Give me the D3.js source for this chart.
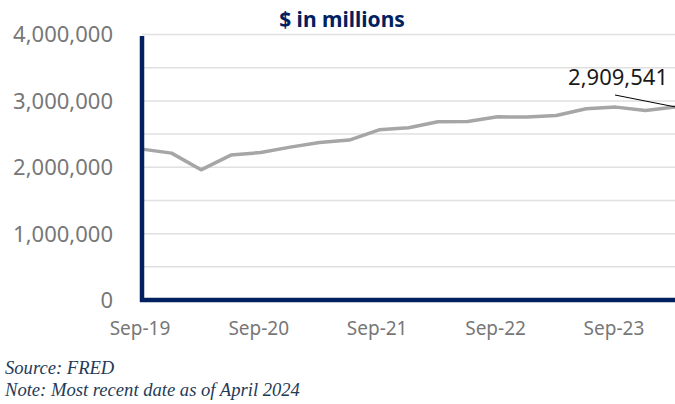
<!DOCTYPE html>
<html>
<head>
<meta charset="utf-8">
<script src="https://cdn.jsdelivr.net/npm/d3@7"></script>
<style>
  body { margin: 0; background: #fff; }
  svg { display: block; }
</style>
</head>
<body>
<div id="chartDiv"></div>
<script>
// quarterly values, $ in millions
var quarters = ["2019-09", "2019-12", "2020-03", "2020-06", "2020-09", "2020-12",
  "2021-03", "2021-06", "2021-09", "2021-12", "2022-03", "2022-06", "2022-09",
  "2022-12", "2023-03", "2023-06", "2023-09", "2023-12", "2024-03"];
var values = [2273000, 2213000, 1961000, 2183000, 2222000, 2303000, 2373000,
  2409000, 2564000, 2594000, 2685000, 2688000, 2760000, 2756000, 2780000,
  2881000, 2906000, 2855000, 2909541];
var yTicks = [0, 1000000, 2000000, 3000000, 4000000];
var gridTicks = [500000, 1000000, 1500000, 2000000, 2500000, 3000000, 3500000, 4000000];
var xTickDates = ["2019-09", "2020-09", "2021-09", "2022-09", "2023-09"];

var parse = d3.timeParse("%Y-%m");
var data = quarters.map(function (q, i) { return { date: parse(q), value: values[i] }; });

var width = 675, height = 404;
var svg = d3.select("#chartDiv").append("svg")
  .attr("width", width)
  .attr("height", height);

var x = d3.scaleTime()
  .domain([parse("2019-09"), parse("2024-03")])
  .range([142, 675]);
var y = d3.scaleLinear()
  .domain([0, 4000000])
  .range([300, 34.5]);

// gridlines
svg.selectAll("line.grid")
  .data(gridTicks)
  .enter().append("line")
  .attr("class", "grid")
  .attr("x1", 142)
  .attr("x2", width)
  .attr("y1", function (d) { return y(d); })
  .attr("y2", function (d) { return y(d); })
  .attr("stroke", "#e0e0e0")
  .attr("stroke-width", 1.5);

// y labels
svg.selectAll("text.ylab")
  .data(yTicks)
  .enter().append("text")
  .attr("class", "ylab")
  .attr("x", 113)
  .attr("y", function (d) { return y(d); })
  .attr("dy", "0.36em")
  .attr("text-anchor", "end")
  .attr("font-family", "Noto Sans")
  .attr("font-size", 22)
  .attr("fill", "#777")
  .text(function (d) { return d3.format(",")(d); });

// x labels
svg.selectAll("text.xlab")
  .data(xTickDates)
  .enter().append("text")
  .attr("class", "xlab")
  .attr("x", function (d) { return x(parse(d)) - 2; })
  .attr("y", 335)
  .attr("text-anchor", "middle")
  .attr("font-family", "Noto Sans")
  .attr("font-size", 19)
  .attr("fill", "#777")
  .text(function (d) { return d3.timeFormat("%b-%y")(parse(d)); });

// the series line
var line = d3.line()
  .x(function (d) { return x(d.date); })
  .y(function (d) { return y(d.value); });

svg.append("path")
  .datum(data)
  .attr("d", line)
  .attr("fill", "none")
  .attr("stroke", "#a6a6a6")
  .attr("stroke-width", 3.5)
  .attr("stroke-linejoin", "round");

// axes lines
svg.append("line")
  .attr("x1", 142).attr("x2", 142)
  .attr("y1", 36).attr("y2", 302)
  .attr("stroke", "#002060")
  .attr("stroke-width", 4.5);
svg.append("line")
  .attr("x1", 140).attr("x2", width)
  .attr("y1", y(0)).attr("y2", y(0))
  .attr("stroke", "#002060")
  .attr("stroke-width", 4.5);

// last value annotation
var last = data[data.length - 1];
svg.append("line")
  .attr("x1", 615).attr("y1", 95)
  .attr("x2", x(last.date)).attr("y2", y(last.value))
  .attr("stroke", "#000")
  .attr("stroke-width", 1);
svg.append("text")
  .attr("x", 668)
  .attr("y", 85)
  .attr("text-anchor", "end")
  .attr("font-family", "Noto Sans")
  .attr("font-size", 22)
  .attr("fill", "#1a1a1a")
  .text(d3.format(",")(last.value));

// title
svg.append("text")
  .attr("x", 342)
  .attr("y", 27)
  .attr("text-anchor", "middle")
  .attr("font-family", "Noto Sans")
  .attr("font-weight", "bold")
  .attr("font-size", 21)
  .attr("fill", "#002060")
  .text("$ in millions");

// source / note
svg.append("text")
  .attr("x", 5)
  .attr("y", 374)
  .attr("font-family", "Liberation Serif")
  .attr("font-style", "italic")
  .attr("font-size", 18.6)
  .attr("fill", "#1f3b57")
  .text("Source: FRED");
svg.append("text")
  .attr("x", 5)
  .attr("y", 396)
  .attr("font-family", "Liberation Serif")
  .attr("font-style", "italic")
  .attr("font-size", 18.6)
  .attr("fill", "#1f3b57")
  .text("Note: Most recent date as of April 2024");
</script>
</body>
</html>
